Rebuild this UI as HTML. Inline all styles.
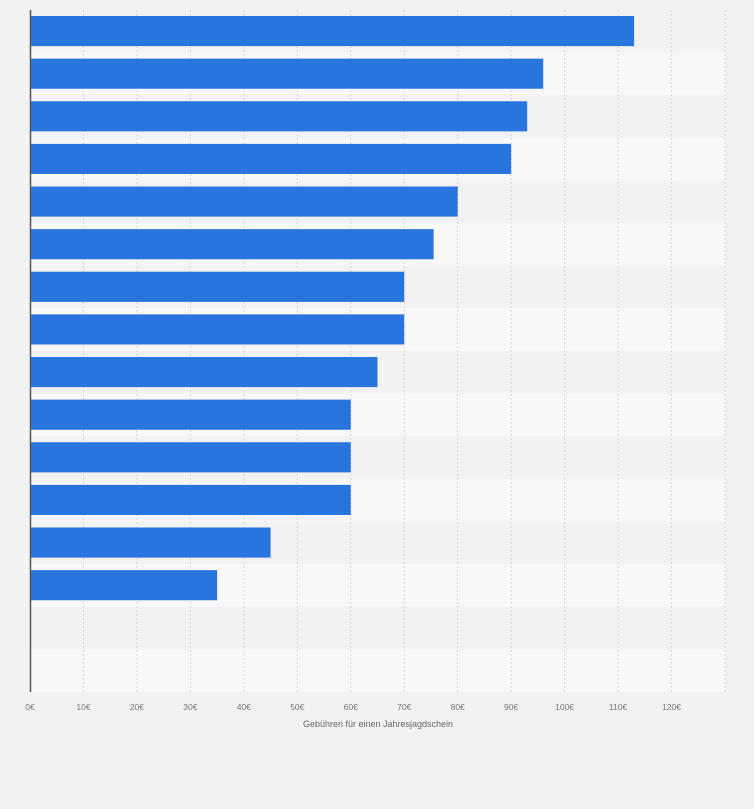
<!DOCTYPE html>
<html><head><meta charset="utf-8"><style>
body{margin:0;background:#f2f2f2;font-family:"Liberation Sans",sans-serif}
svg{display:block}
</style></head><body>
<svg id="chart" width="754" height="809" xmlns="http://www.w3.org/2000/svg">
<rect width="754" height="809" fill="#f2f2f2"/>
<g id="rows"></g><g id="grid"></g><g id="bars"></g><g id="ticks"></g>
<line x1="30.5" y1="10" x2="30.5" y2="692" stroke="#555" stroke-width="1.5"/>
<text x="378" y="727" font-size="9" fill="#666" text-anchor="middle">Gebühren für einen Jahresjagdschein</text>
</svg>
<script>
const categories = ["Land 1","Land 2","Land 3","Land 4","Land 5","Land 6","Land 7","Land 8","Land 9","Land 10","Land 11","Land 12","Land 13","Land 14","",""];
const values = [113,96,93,90,80,75.5,70,70,65,60,60,60,45,35,null,null];
const tickValues = [0,10,20,30,40,50,60,70,80,90,100,110,120];
const tickLabels = ["0€","10€","20€","30€","40€","50€","60€","70€","80€","90€","100€","110€","120€"];
const NS="http://www.w3.org/2000/svg";
const px0=30, xMax=130, px1=725, plotTop=10, plotBottom=692;
const xs=v=>px0+v*(px1-px0)/xMax;
const rowH=(plotBottom-plotTop)/categories.length;
const ys=i=>plotTop+i*rowH;
function mk(tag,attrs,parent){const e=document.createElementNS(NS,tag);for(const k in attrs)e.setAttribute(k,attrs[k]);document.getElementById(parent).appendChild(e);return e;}
categories.forEach((c,i)=>{
  const r=mk('rect',{x:px0,y:ys(i),width:px1-px0,height:rowH,fill:i%2?'#f8f8f8':'#f2f2f2'},'rows');
  
  
});
tickValues.forEach((v,i)=>{
  const x=xs(v);
  if(v>0){const l=mk('line',{x1:x,y1:plotTop,x2:x,y2:plotBottom,stroke:'#d8d8d8','stroke-dasharray':'2,2'},'grid');
  
  }
  const t=mk('text',{x:x,y:710,'font-size':'8.5',fill:'#777','text-anchor':'middle'},'ticks');
  t.textContent=tickLabels[i];
  
  
});
const gl=mk('line',{x1:px1,y1:plotTop,x2:px1,y2:plotBottom,stroke:'#d8d8d8','stroke-dasharray':'2,2'},'grid');


values.forEach((v,i)=>{
  if(v==null)return;
  const b=mk('rect',{x:px0,y:ys(i)+6,width:xs(v)-px0,height:rowH-12.5,fill:'#2876dd'},'bars');
  
  
});
</script>
</body></html>
